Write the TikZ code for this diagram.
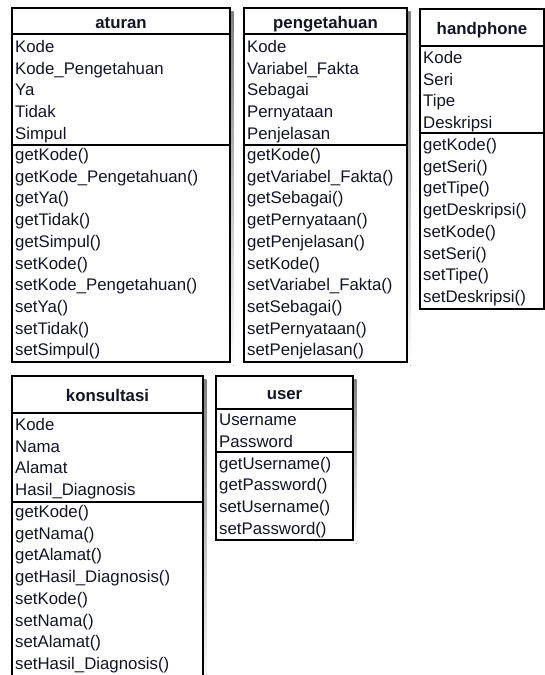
\documentclass[tikz,border=0pt]{standalone}
\usepackage{fontspec}
\setmainfont{Liberation Sans}
\definecolor{ink}{RGB}{20,20,40}
\definecolor{shade}{RGB}{160,160,160}

% Frame of a UML class: shadow, outline, compartment lines and title.
% #1 name, #2 left, #3 right, #4 top, #5 title line, #6 attribute line, #7 bottom, #8 title
\newcommand\classframe[8]{%
  \fill[shade] (#2+3.5,#4+3.5) rectangle (#3+3.5,#7+3.5);
  \fill[white] (#2,#4) rectangle (#3,#7);
  \draw[classline] (#2,#4) rectangle (#3,#7);
  \draw[classline] (#2,#5) -- (#3,#5);
  \draw[classline] (#2,#6) -- (#3,#6);
  \node[classtitle] (#1-title) at ({(#2+#3)/2},{(#4+#5)/2+7}) {#8};
}
% Rows of one compartment: #1 node prefix, #2 left, #3 first baseline, #4 list
\newcommand\classrows[4]{%
  \foreach \txt [count=\i from 0] in {#4} {
    \node[member] (#1-\i) at (#2+3,{#3+\i*21.7}) {\txt};
  }
}

\begin{document}
\begin{tikzpicture}[x=1pt,y=-1pt,
  classline/.style={draw=black,line width=1.1pt},
  member/.style={anchor=base west,inner sep=0pt,text=ink,
    font=\fontsize{16.8}{18}\selectfont},
  classtitle/.style={anchor=base,inner sep=0pt,text=ink,
    font=\fontsize{16.8}{18}\selectfont\bfseries}]
\useasboundingbox (0,0) rectangle (545,675);
\clip (0,0) rectangle (545,675);

% aturan
\classframe{aturan}{12}{230}{8}{34}{145}{362}{aturan}
\classrows{aturan-a}{12}{52.5}{Kode,Kode\_Pengetahuan,Ya,Tidak,Simpul}
\classrows{aturan-m}{12}{160.5}{getKode(),getKode\_Pengetahuan(),getYa(),getTidak(),getSimpul(),setKode(),setKode\_Pengetahuan(),setYa(),setTidak(),setSimpul()}

% pengetahuan
\classframe{pengetahuan}{244}{407}{8}{34}{145}{362}{pengetahuan}
\classrows{pengetahuan-a}{244}{52.5}{Kode,Variabel\_Fakta,Sebagai,Pernyataan,Penjelasan}
\classrows{pengetahuan-m}{244}{160.5}{getKode(),getVariabel\_Fakta(),getSebagai(),getPernyataan(),getPenjelasan(),setKode(),setVariabel\_Fakta(),setSebagai(),setPernyataan(),setPenjelasan()}

% handphone
\classframe{handphone}{420}{544}{9}{46}{133}{309}{handphone}
\classrows{handphone-a}{420}{63.5}{Kode,Seri,Tipe,Deskripsi}
\classrows{handphone-m}{420}{150.5}{getKode(),getSeri(),getTipe(),getDeskripsi(),setKode(),setSeri(),setTipe(),setDeskripsi()}

% konsultasi
\classframe{konsultasi}{12}{203}{376}{413}{502}{690}{konsultasi}
\classrows{konsultasi-a}{12}{430.5}{Kode,Nama,Alamat,Hasil\_Diagnosis}
\classrows{konsultasi-m}{12}{517.5}{getKode(),getNama(),getAlamat(),getHasil\_Diagnosis(),setKode(),setNama(),setAlamat(),setHasil\_Diagnosis()}

% user
\classframe{user}{216}{353}{376}{409}{452}{540}{user}
\classrows{user-a}{216}{425.5}{Username,Password}
\classrows{user-m}{216}{469}{getUsername(),getPassword(),setUsername(),setPassword()}
\end{tikzpicture}
\end{document}
